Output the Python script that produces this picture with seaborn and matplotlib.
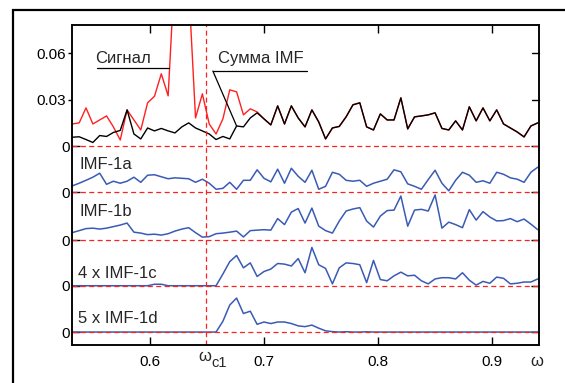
import numpy as np
import matplotlib
matplotlib.use("Agg")
import matplotlib.pyplot as plt
import seaborn as sns
from matplotlib.patches import Rectangle

sns.set_theme(style="white")
plt.rcParams['font.family'] = ['Liberation Sans', 'DejaVu Sans']

# частотная сетка (69 отсчётов)
freq = np.linspace(0.532, 0.940, 69)

# значения в единицах 1e-3
signal = [14.3, 15.0, 24.7, 14.3, 16.9, 19.5, 12.4, 3.9, 23.4, 16.9,
          10.4, 28.0, 32.2, 46.8, 32.5, 117.0, 162.0, 104.0, 18.2, 33.8,
          14.3, 7.8, 17.6, 36.4, 35.1, 20.2, 24.1, 22.1, 17.6, 13.7,
          26.0, 14.3, 26.0, 18.2, 12.4, 23.4, 15.6, 4.6, 11.7, 12.7,
          18.9, 26.7, 28.0, 12.4, 10.4, 20.8, 16.9, 16.9, 31.2, 11.1,
          18.9, 19.5, 20.2, 21.5, 11.4, 10.4, 16.3, 10.4, 25.4, 16.3,
          24.7, 16.3, 23.4, 14.3, 11.7, 9.1, 5.9, 13.0, 15.0]
imf_sum = [5.7, 6.0, 4.2, 2.3, 6.8, 6.2, 8.8, 10.1, 23.4, 7.8,
           4.6, 11.7, 9.8, 11.4, 9.8, 8.5, 12.4, 15.0, 11.7, 9.8,
           7.8, 4.2, 6.2, 4.6, 13.0, 12.4, 18.2, 21.5, 17.6, 13.7,
           26.0, 14.3, 26.0, 18.2, 12.4, 23.4, 15.6, 4.6, 11.7, 12.7,
           18.9, 26.7, 28.0, 12.4, 10.4, 20.8, 16.9, 16.9, 31.2, 11.1,
           18.9, 19.5, 20.2, 21.5, 11.4, 10.4, 16.3, 10.4, 25.4, 16.3,
           24.7, 16.3, 23.4, 14.3, 11.7, 9.1, 5.9, 13.0, 15.0]
imf_1a = [4.2, 5.9, 7.8, 9.8, 12.4, 5.2, 7.2, 5.9, 7.2, 9.8,
          6.5, 11.1, 11.4, 10.1, 8.8, 9.4, 9.1, 8.8, 6.5, 8.5,
          5.9, 2.0, 2.6, 6.5, 2.0, 7.8, 7.8, 14.6, 9.1, 6.8,
          15.0, 5.9, 15.6, 10.4, 6.5, 14.3, 2.0, 3.9, 13.0, 11.7,
          7.8, 7.2, 7.8, 3.9, 5.9, 7.2, 8.5, 14.6, 13.3, 5.5,
          3.9, 2.0, 8.3, 14.3, 5.9, 1.0, 7.8, 13.0, 11.1, 6.5,
          7.5, 5.9, 13.0, 11.7, 9.4, 8.5, 6.5, 13.0, 16.3]
imf_1b = [4.9, 6.2, 7.5, 7.8, 7.2, 7.8, 8.8, 9.8, 11.1, 5.2,
          4.6, 3.6, 3.9, 3.3, 4.2, 5.9, 7.2, 8.1, 4.9, 2.0,
          2.3, 4.2, 4.6, 5.2, 5.9, 2.1, 6.2, 6.5, 6.8, 6.5,
          14.0, 10.1, 18.2, 20.5, 11.1, 20.8, 9.1, 6.2, 4.6, 12.4,
          18.9, 20.2, 21.1, 12.4, 8.5, 15.6, 19.2, 19.5, 28.6, 9.1,
          19.5, 20.0, 18.9, 29.3, 7.8, 11.7, 10.1, 8.1, 19.8, 13.0,
          18.5, 15.0, 12.5, 12.7, 14.0, 12.0, 13.7, 10.4, 6.8]
imf_1c = [0, 0, 0, 0, 0, 0, 0, 0, 0, 0,
          0, 0, 0.24, 0.24, 0, 0, 0, 0, 0, 0,
          0, 0, 1.9, 3.9, 4.9, 2.9, 3.7, 1.5, 2.3, 2.7,
          3.6, 3.5, 3.2, 4.4, 2.1, 6.2, 3.4, 2.8, 0.3, 2.9,
          3.7, 3.6, 3.4, 0.5, 4.1, 1.0, 0.8, 1.6, 2.2, 1.6,
          1.7, 0.8, 0.3, 1.1, 1.3, 1.3, 1.1, 2.1, 0.9, 0.1,
          0.7, 0.4, 1.4, 1.2, 0.3, 0.4, 0.6, 0.6, 1.1]
imf_1d = [0, 0, 0, 0, 0, 0, 0, 0, 0, 0,
          0, 0, 0, 0, 0, 0, 0, 0, 0, 0,
          0, 0, 1.4, 3.5, 4.4, 2.4, 2.7, 1.0, 1.3, 1.1,
          1.3, 1.3, 1.1, 0.8, 0.7, 0.9, 0.5, 0.16, 0.05, 0,
          0.04, 0, 0, 0.03, 0, 0, 0, 0, 0, 0,
          0, 0, 0, 0, 0, 0, 0, 0, 0, 0,
          0, 0, 0, 0, 0, 0, 0, 0, 0]

imf_labels = ["IMF-1a", "IMF-1b", "4 x IMF-1c", "5 x IMF-1d"]
imf_gain = [1, 1, 4, 5]
omega_c1 = 0.649

# смещения нулевых линий
offsets = [0.0, -0.0300, -0.0610, -0.0905, -0.1205]
scale_ticks = [0.03, 0.06]

RED = "#ff2020"
BLUE = "#3a5bb5"
DASH = (0, (4, 2.7))

fig = plt.figure(figsize=(5.65, 3.83), dpi=100)
fig.patch.set_facecolor("white")
# внешняя рамка
fig.patches.append(Rectangle((0.023, -0.05), 1.1, 0.974 + 0.05,
                             transform=fig.transFigure, fill=False,
                             edgecolor="black", linewidth=1.6))
ax = fig.add_axes([0.1274, 0.0992, 0.954 - 0.1274, 0.9347 - 0.0992])
ax.set_facecolor("white")

s = np.array(signal) / 1000
m = np.array(imf_sum) / 1000
sns.lineplot(x=freq, y=s, ax=ax, color=RED, lw=1.0, estimator=None, zorder=2)
sns.lineplot(x=freq, y=m, ax=ax, color="black", lw=1.0, estimator=None, zorder=3)

for vals, gain, off in zip([imf_1a, imf_1b, imf_1c, imf_1d], imf_gain, offsets[1:]):
    y = np.array(vals) / 1000 * gain + off
    sns.lineplot(x=freq, y=y, ax=ax, color=BLUE, lw=1.1, estimator=None, zorder=3)

for off in offsets:
    ax.axhline(off, color=RED, lw=0.9, ls=DASH, zorder=4)
ax.axvline(omega_c1, color=RED, lw=0.9, ls=DASH, zorder=4)

ax.set_xlim(0.5317, 0.9411)
ax.set_ylim(-0.1289, 0.0784)

# подписи
ax.text(0.5518, 0.0570, "Сигнал", fontsize=12, va="center", ha="left")
ax.plot([0.5536, 0.6171], [0.0505, 0.0505], color="black", lw=0.9)
ax.text(0.6595, 0.0570, "Сумма IMF", fontsize=12, va="center", ha="left")
ax.plot([0.6552, 0.7379], [0.0486, 0.0486], color="black", lw=0.9)
ax.plot([0.6552, freq[24]], [0.0486, m[24]], color="black", lw=0.9)

label_y = [-0.0117, -0.0421, -0.0823, -0.1115]
label_x = [0.5387, 0.5387, 0.5370, 0.5370]
for lx, ly, txt in zip(label_x, label_y, imf_labels):
    ax.text(lx, ly, txt, fontsize=12, va="center", ha="left")

# оси
ax.set_xticks([0.6, 0.7, 0.8, 0.9])
ax.set_xticklabels(["0.6", "0.7", "0.8", "0.9"])
ax.set_yticks(offsets)
ax.set_yticklabels(["0"] * len(offsets))
ax.set_yticks(scale_ticks, minor=True)
ax.set_yticklabels(["0.03", "0.06"], minor=True)
ax.tick_params(axis="x", which="major", direction="in", length=6, width=1.0,
               top=True, bottom=True, labelsize=11, pad=7, colors="black")
ax.tick_params(axis="y", which="major", direction="in", length=6, width=1.0,
               left=True, right=True, labelsize=11, pad=1.5, colors="black")
ax.tick_params(axis="y", which="minor", direction="out", length=3, width=1.0,
               left=True, right=False, labelsize=11, pad=1, colors="black")
# правые засечки 0.03 / 0.06 внутрь
rt = ax.get_yaxis_transform()
for yt in scale_ticks:
    ax.plot([0.985, 1.0], [yt, yt], color="black", lw=1.0, transform=rt,
            clip_on=False, zorder=5)

for sp in ax.spines.values():
    sp.set_visible(True)
    sp.set_color("black")
    sp.set_linewidth(1.1)
    sp.set_zorder(6)
ax.add_patch(Rectangle((0, 0), 1, 1, transform=ax.transAxes, fill=False,
                       edgecolor="black", lw=1.1, clip_on=False, zorder=6))

xt = ax.get_xaxis_transform()
ax.text(omega_c1 - 0.001, -0.037, "ω", transform=xt, fontsize=12,
        ha="center", va="center")
ax.text(omega_c1 + 0.005, -0.056, "c1", transform=xt, fontsize=10.5,
        ha="left", va="center")
ax.text(0.996, -0.053, "ω", transform=ax.transAxes, fontsize=12,
        ha="center", va="center")

fig.savefig("out.png", dpi=100)
